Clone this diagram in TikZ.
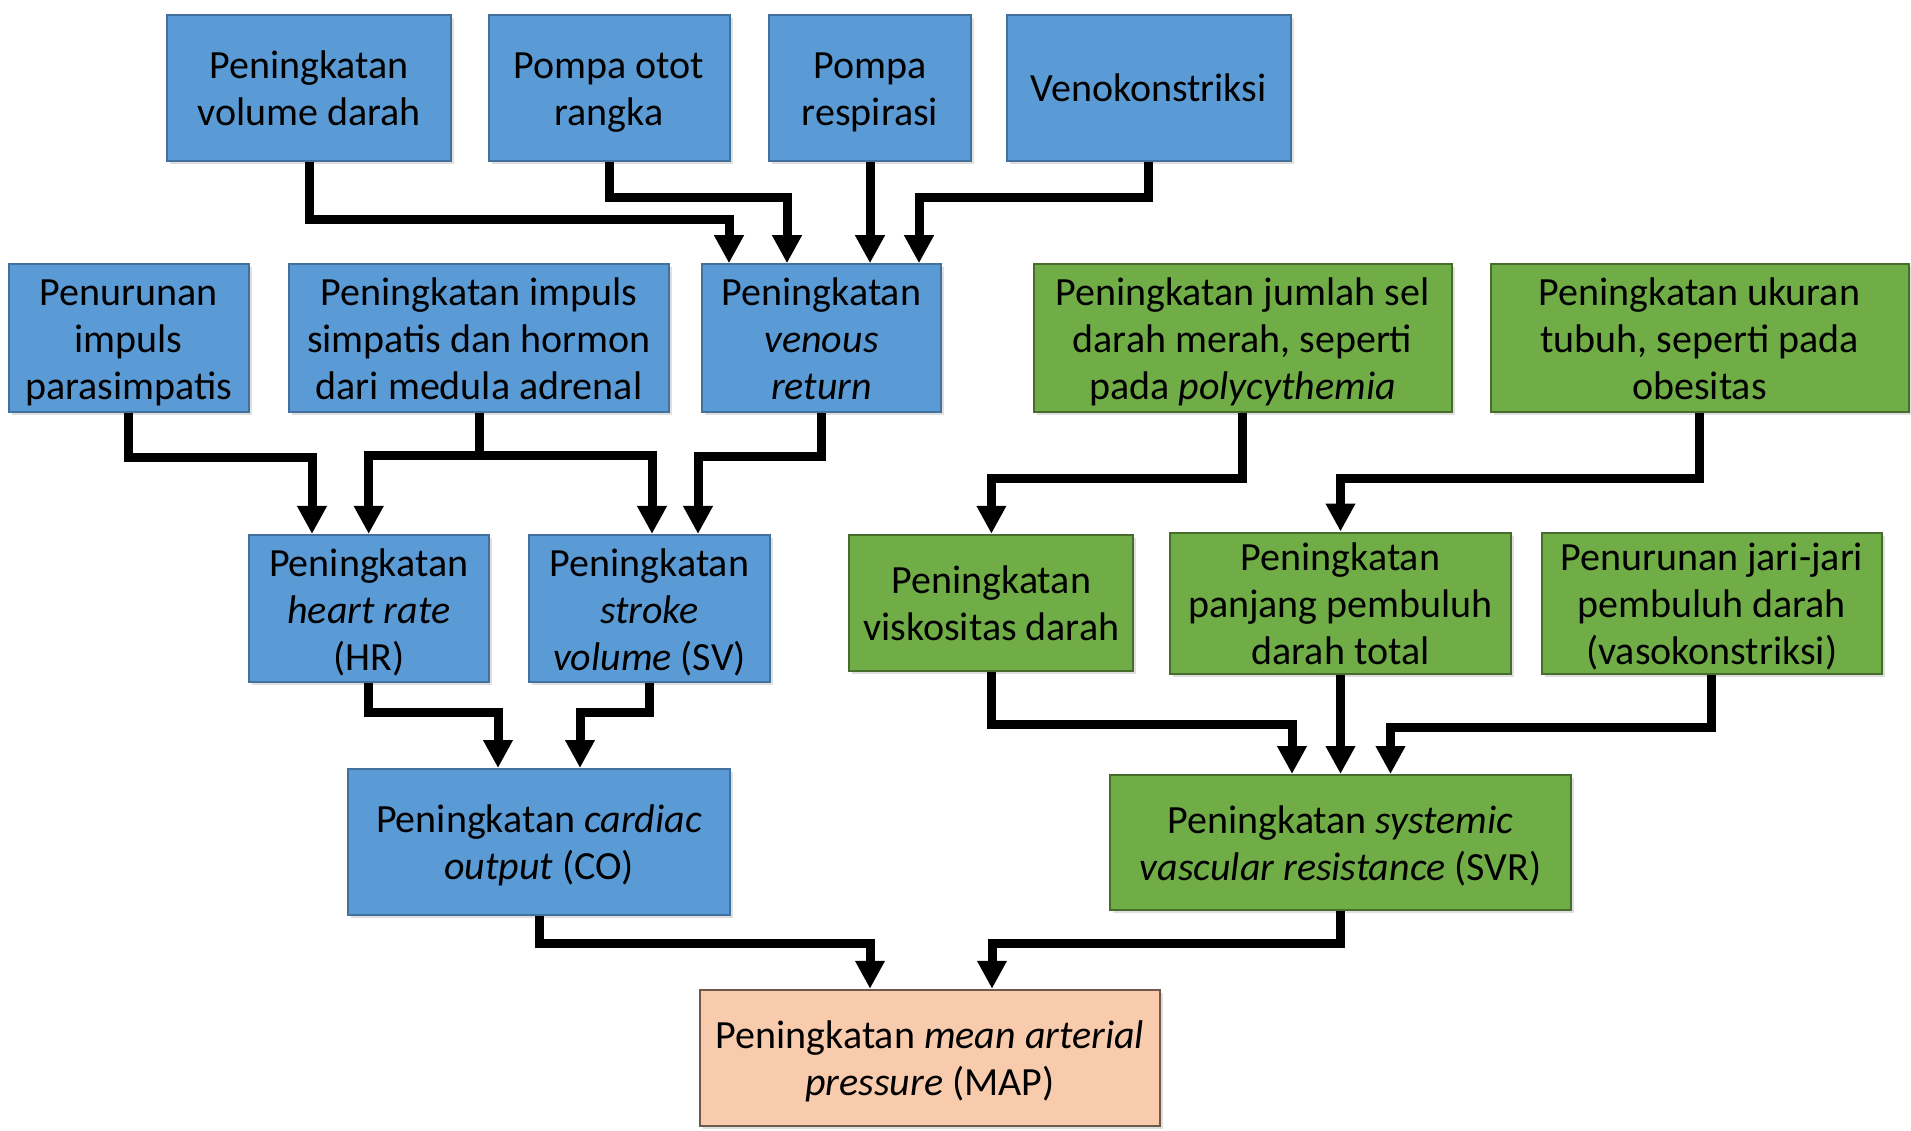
\documentclass[tikz,border=0pt]{standalone}
\usepackage{fontspec}
\setmainfont{Carlito}
\usetikzlibrary{arrows.meta,shadows}

\definecolor{fillblue}{HTML}{5B9BD5}
\definecolor{edgeblue}{HTML}{41719C}
\definecolor{fillgreen}{HTML}{70AD47}
\definecolor{edgegreen}{HTML}{466D2C}
\definecolor{fillpeach}{HTML}{F8CBAD}
\definecolor{edgepeach}{HTML}{6E5A4C}

% centred lines of box text, set a little below the geometric centre
\newcommand\boxtext[1]{\raisebox{-5pt}[\height][\depth]{\begin{tabular}{@{}c@{}}#1\end{tabular}}}

\tikzset{
  basebox/.style={rectangle, inner sep=0pt, line width=2pt,
    drop shadow={opacity=0.25, shadow xshift=3pt, shadow yshift=-3pt}},
  bluebox/.style={basebox, fill=fillblue, draw=edgeblue},
  greenbox/.style={basebox, fill=fillgreen, draw=edgegreen},
  peachbox/.style={basebox, fill=fillpeach, draw=edgepeach},
  arr/.style={line width=9pt, black, -{Triangle[width=28pt,length=28pt]}},
  plain/.style={line width=9pt, black},
}

\begin{document}
\begin{tikzpicture}[x=1pt, y=-1pt, font=\fontsize{40}{47}\selectfont]
\useasboundingbox (0,0) rectangle (1911,1131);

% top row: sources of venous return
\node[bluebox, minimum width=284pt, minimum height=146pt] (vol)   at (309,88)    {\boxtext{Peningkatan\\volume darah}};
\node[bluebox, minimum width=241pt, minimum height=146pt] (otot)  at (609,88)    {\boxtext{Pompa otot\\rangka}};
\node[bluebox, minimum width=202pt, minimum height=146pt] (resp)  at (870,88)    {\boxtext{Pompa\\respirasi}};
\node[bluebox, minimum width=284pt, minimum height=146pt] (veno)  at (1148.6,88) {Venokonstriksi};

% second row
\node[bluebox, minimum width=240pt, minimum height=147.5pt] (para) at (128.6,338) {\boxtext{Penurunan\\impuls\\parasimpatis}};
\node[bluebox, minimum width=380pt, minimum height=147.5pt] (simp) at (479,338)   {\boxtext{Peningkatan impuls\\simpatis dan hormon\\dari medula adrenal}};
\node[bluebox, minimum width=239pt, minimum height=147.5pt] (ret)  at (821.5,338) {\boxtext{Peningkatan\\\textit{venous}\\\textit{return}}};
\node[greenbox, minimum width=418pt, minimum height=147.5pt] (rbc) at (1242.5,338) {\boxtext{Peningkatan jumlah sel\\darah merah, seperti\\pada \textit{polycythemia}}};
\node[greenbox, minimum width=418pt, minimum height=147.5pt] (body) at (1699.5,338) {\boxtext{Peningkatan ukuran\\tubuh, seperti pada\\obesitas}};

% third row
\node[bluebox, minimum width=240pt, minimum height=147.5pt] (hr) at (368.7,608.7) {\boxtext{Peningkatan\\\textit{heart rate}\\(HR)}};
\node[bluebox, minimum width=241pt, minimum height=147.5pt] (sv) at (649.5,608.7) {\boxtext{Peningkatan\\\textit{stroke}\\\textit{volume} (SV)}};
\node[greenbox, minimum width=284pt, minimum height=136.5pt] (visc) at (991.4,603) {\boxtext{Peningkatan\\viskositas darah}};
\node[greenbox, minimum width=341pt, minimum height=136.5pt] (len)  at (1340.5,603) {\boxtext{Peningkatan\\panjang pembuluh\\darah total}};
\node[greenbox, minimum width=340pt, minimum height=136.5pt] (rad)  at (1711.7,603) {\boxtext{Penurunan jari-jari\\pembuluh darah\\(vasokonstriksi)}};

% fourth row
\node[bluebox, minimum width=381.5pt, minimum height=146pt] (co) at (539,842) {\boxtext{Peningkatan \textit{cardiac}\\\textit{output} (CO)}};
\node[greenbox, minimum width=461pt, minimum height=135pt] (svr) at (1340.5,842.5) {\boxtext{Peningkatan \textit{systemic}\\\textit{vascular resistance} (SVR)}};

% result
\node[peachbox, minimum width=460.5pt, minimum height=136.5pt] (map) at (930,1058) {\boxtext{Peningkatan \textit{mean arterial}\\\textit{pressure} (MAP)}};

% connectors into venous return
\draw[arr] (vol.south)  -- ++(0,58) -| ([xshift=-92.5pt]ret.north);
\draw[arr] (otot.south) -- ++(0,36) -| ([xshift=-34.5pt]ret.north);
\draw[arr] (resp.south) -- (resp.south |- ret.north);
\draw[arr] (veno.south) -- ++(0,36) -| ([xshift=97.5pt]ret.north);

% connectors into heart rate and stroke volume
\draw[arr] (para.south) -- ++(0,45) -| ([xshift=-56.7pt]hr.north);
\draw[plain] (simp.south) -- ++(0,43) coordinate (simpj);
\draw[arr] (simpj) -| (hr.north);
\draw[arr] (simpj) -| ([xshift=2.5pt]sv.north);
\draw[arr] (ret.south) -- ++(0,44) -| ([xshift=48.5pt]sv.north);

% green branch
\draw[arr] (rbc.south)  -- ++(0,66) -| (visc.north);
\draw[arr] (body.south) -- ++(0,66) -| (len.north);

% into cardiac output
\draw[arr] (hr.south) -- ++(0,29) -| ([xshift=-41pt]co.north);
\draw[arr] (sv.south) -- ++(0,29) -| ([xshift=41pt]co.north);

% into systemic vascular resistance
\draw[arr] (visc.south) -- ++(0,52.5) -| ([xshift=-48.5pt]svr.north);
\draw[arr] (len.south)  -- (len.south |- svr.north);
\draw[arr] (rad.south)  -- ++(0,52.5) -| ([xshift=50pt]svr.north);

% into mean arterial pressure
\draw[arr] (co.south)  -- ++(0,27) -| ([xshift=-60pt]map.north);
\draw[arr] (svr.south) -- ++(0,32) -| ([xshift=62pt]map.north);
\end{tikzpicture}
\end{document}
